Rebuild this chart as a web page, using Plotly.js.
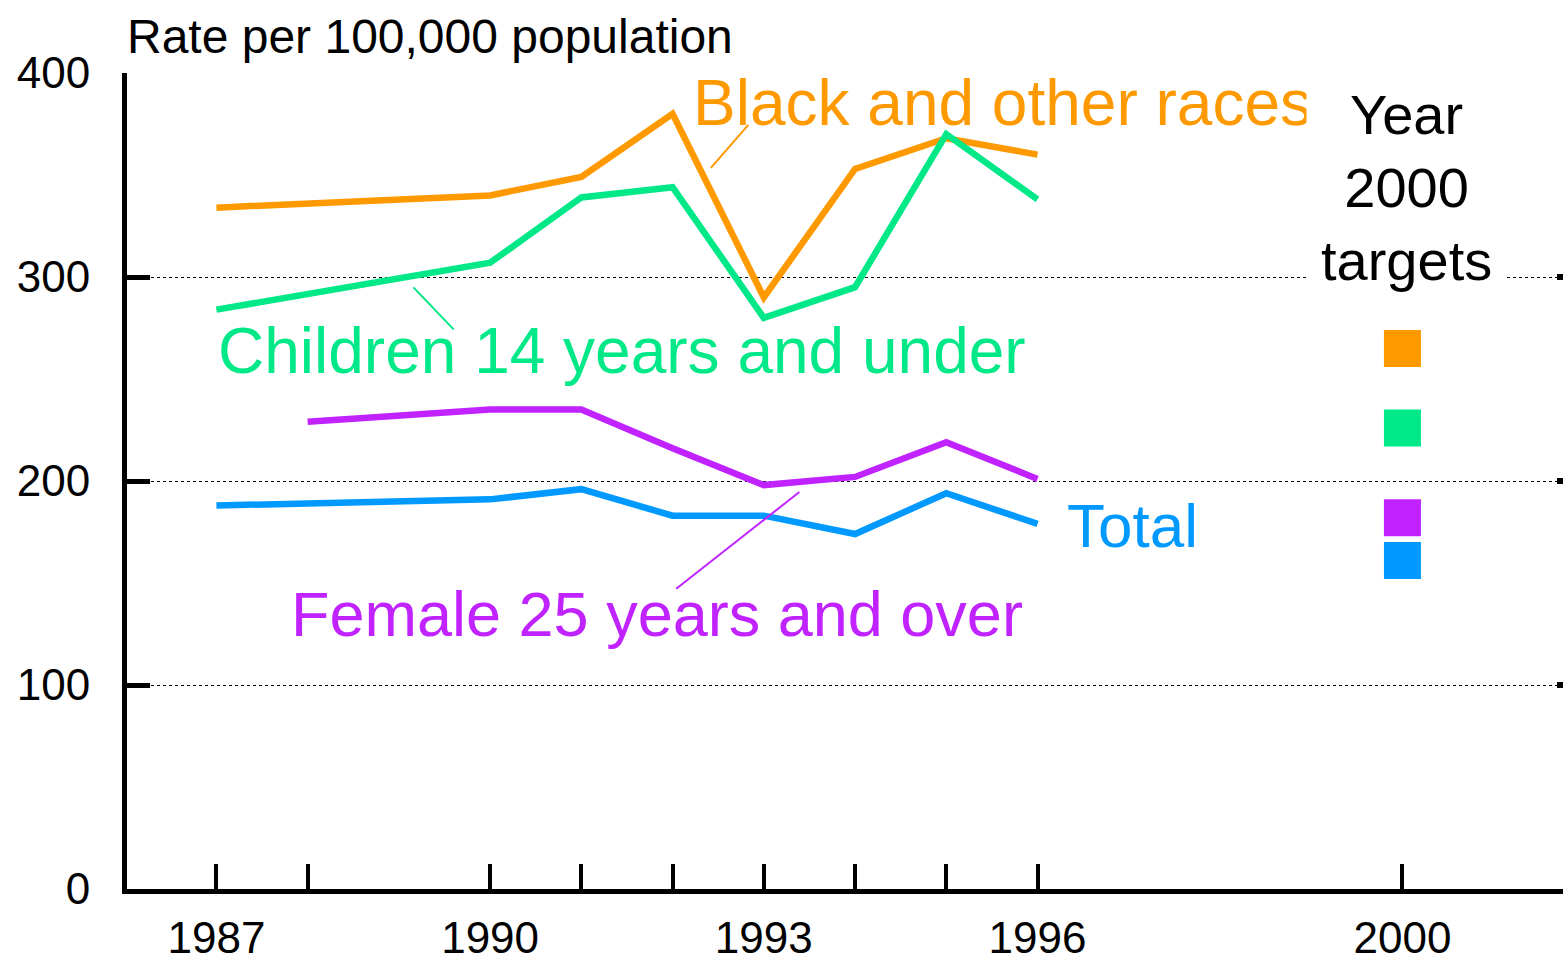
<!DOCTYPE html>
<html>
<head>
<meta charset="utf-8">
<script src="https://cdn.plot.ly/plotly-3.0.1.min.js"></script>
<style>html,body{margin:0;padding:0;background:#fff;}#chart{width:1565px;height:963px;}</style>
</head>
<body>
<div id="chart"></div>
<script>
// ---- data ----
var years = [1987, 1990, 1991, 1992, 1993, 1994, 1995, 1996];
var femaleYears = [1988, 1990, 1991, 1992, 1993, 1994, 1995, 1996];
var blackOther = [334, 340, 349, 380, 290, 353, 368, 360];
var children = [284, 307, 339, 344, 280, 295, 370, 338];
var female = [229, 235, 235, 216, 198, 202, 219, 201];
var total = [188, 191, 196, 183, 183, 174, 194, 179];
var targetYear = 2000;
var targets = [265, 226, 182, 161];
var xTickVals = [1987, 1988, 1990, 1991, 1992, 1993, 1994, 1995, 1996, 2000];
var xTickText = ['1987', '', '1990', '', '', '1993', '', '', '1996', '2000'];
var yTickVals = [0, 100, 200, 300, 400];
var seriesNames = ['Black and other races', 'Children 14 years and under', 'Female 25 years and over', 'Total'];

var cOrange = '#FF9900', cGreen = '#00E887', cPurple = '#C023FF', cBlue = '#0099FF';
var FONT = 'Liberation Sans, Arial, sans-serif';

var traces = [
  {x: years, y: blackOther, name: seriesNames[0], mode: 'lines', line: {color: cOrange, width: 6.5}},
  {x: years, y: children, name: seriesNames[1], mode: 'lines', line: {color: cGreen, width: 6.5}},
  {x: femaleYears, y: female, name: seriesNames[2], mode: 'lines', line: {color: cPurple, width: 6.5}},
  {x: years, y: total, name: seriesNames[3], mode: 'lines', line: {color: cBlue, width: 6.5}},
  {x: targets.map(function(){return targetYear;}), y: targets, mode: 'markers', name: 'Year 2000 targets',
   marker: {symbol: 'square', size: 37, color: [cOrange, cGreen, cPurple, cBlue], line: {width: 0}}},
  {x: [targetYear], y: [0], yaxis: 'y2', mode: 'markers', marker: {opacity: 0}, hoverinfo: 'skip', showlegend: false}
];

var layout = {
  width: 1565, height: 963,
  margin: {l: 127, r: 2, t: 73, b: 74},
  paper_bgcolor: '#fff', plot_bgcolor: '#fff',
  showlegend: false, hovermode: false,
  font: {family: FONT, color: '#000', size: 44},
  title: {text: 'Rate per 100,000 population', font: {family: FONT, size: 48, color: '#000'},
          xref: 'paper', x: 0, xanchor: 'left', yref: 'container', y: 1 - 36/963, yanchor: 'middle'},
  xaxis: {range: [1986.02, 2001.76], tickmode: 'array', tickvals: xTickVals, ticktext: xTickText,
          ticks: 'inside', ticklen: 25, tickwidth: 4, tickcolor: '#000',
          showline: true, linewidth: 5, linecolor: '#000', showgrid: false, zeroline: false,
          tickfont: {family: FONT, size: 44, color: '#000'}, ticklabelstandoff: 6},
  yaxis: {range: [0, 400], tickmode: 'array', tickvals: yTickVals,
          ticks: 'inside', ticklen: 23, tickwidth: 5, tickcolor: '#000',
          showline: true, linewidth: 5, linecolor: '#000',
          showgrid: true, gridcolor: '#000', gridwidth: 1, griddash: 'dot', zeroline: false,
          tickfont: {family: FONT, size: 44, color: '#000'}, ticklabelstandoff: 23},
  yaxis2: {range: [0, 400], overlaying: 'y', side: 'right', anchor: 'x', tickmode: 'array', tickvals: [100, 200, 300, 400],
           ticks: 'inside', ticklen: 6, tickwidth: 6, tickcolor: '#000', showticklabels: false,
           showline: false, showgrid: false, zeroline: false},
  shapes: [
    {type: 'line', xref: 'x', yref: 'y', x0: 1992.83, y0: 374.6, x1: 1992.42, y1: 353.5, line: {color: cOrange, width: 2}},
    {type: 'line', xref: 'x', yref: 'y', x0: 1989.16, y0: 294.9, x1: 1989.60, y1: 274.3, line: {color: cGreen, width: 2}},
    {type: 'line', xref: 'x', yref: 'y', x0: 1993.39, y0: 194.6, x1: 1992.04, y1: 147.2, line: {color: cPurple, width: 2}}
  ],
  annotations: [
    {text: seriesNames[0], x: 1992.2, y: 385.3, xref: 'x', yref: 'y', xanchor: 'left', yanchor: 'middle', showarrow: false,
     font: {family: FONT, size: 64, color: cOrange}},
    {text: seriesNames[1], x: 1987.0, y: 263.6, xref: 'x', yref: 'y', xanchor: 'left', yanchor: 'middle', showarrow: false,
     font: {family: FONT, size: 64, color: cGreen}},
    {text: seriesNames[2], x: 1987.8, y: 135, xref: 'x', yref: 'y', xanchor: 'left', yanchor: 'middle', showarrow: false,
     font: {family: FONT, size: 63, color: cPurple}},
    {text: seriesNames[3], x: 1996.3, y: 178, xref: 'x', yref: 'y', xanchor: 'left', yanchor: 'middle', showarrow: false,
     font: {family: FONT, size: 62, color: cBlue}},
    {text: 'Year<br>2000<br>targets', x: 2000.05, y: 343.8, xref: 'x', yref: 'y', xanchor: 'center', yanchor: 'middle', showarrow: false,
     align: 'center', bgcolor: '#fff', borderpad: 14, font: {family: FONT, size: 56, color: '#000'}}
  ]
};

Plotly.newPlot('chart', traces, layout, {staticPlot: true, displayModeBar: false});
</script>
</body>
</html>
